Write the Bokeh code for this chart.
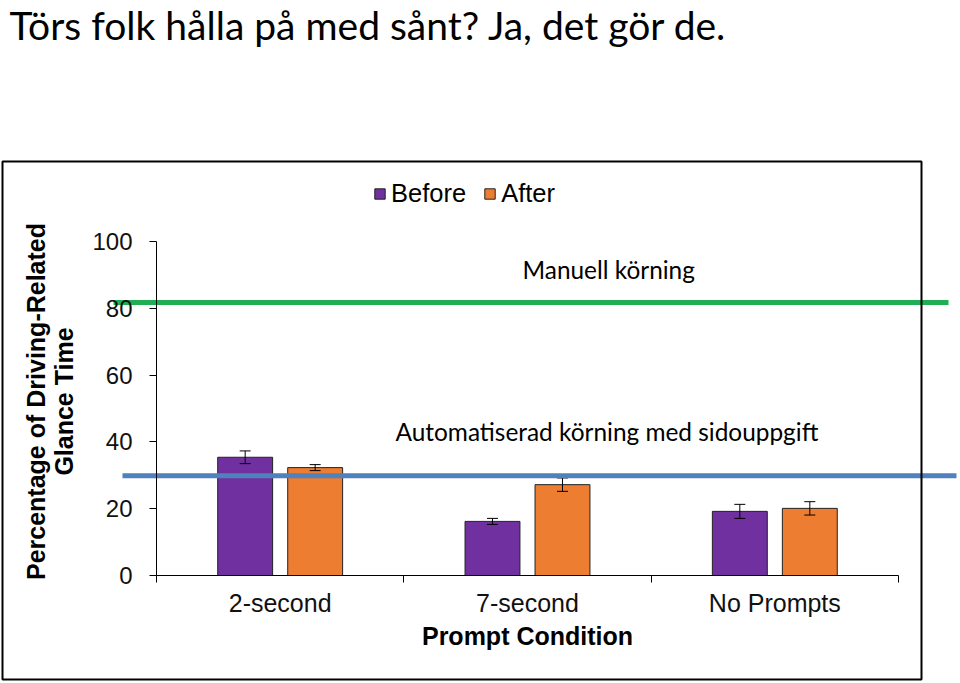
from math import pi
from bokeh.plotting import figure
from bokeh.models import (Range1d, LinearAxis, FixedTicker, Label, BoxAnnotation,
                          Legend, LegendItem, ColumnDataSource)
from bokeh.embed import file_html
from bokeh.resources import INLINE

# ---------------- data ----------------
title_text = "Törs folk hålla på med sånt? Ja, det gör de."
categories = ["2-second", "7-second", "No Prompts"]
series_names = ["Before", "After"]
before = [35.4, 16.2, 19.2]
after = [32.3, 27.2, 20.1]
before_err = [1.9, 0.9, 2.1]
after_err = [0.9, 2.0, 2.0]
y_ticks = [0, 20, 40, 60, 80, 100]
x_title = "Prompt Condition"
y_title_lines = ["Percentage of Driving-Related", "Glance Time"]
manual_level = 81.7
auto_level = 29.9
manual_text = "Manuell körning"
auto_text = "Automatiserad körning med sidouppgift"

# ---------------- layout constants ----------------
W, H = 960, 683
PX_PER_CAT = 247.33
X0_PX = 156.0          # px where x = 0
PX_PER_UNIT = 3.34
Y0_PX = 108.0          # px from bottom where y = 0
BAR_OFF = 0.1415
BAR_W = 0.222

def px_to_x(px):
    return (px - X0_PX) / PX_PER_CAT

x_range = Range1d(-X0_PX / PX_PER_CAT, (W - X0_PX) / PX_PER_CAT)
y_range = Range1d(-Y0_PX / PX_PER_UNIT, (H - Y0_PX) / PX_PER_UNIT)

p = figure(width=W, height=H, x_range=x_range, y_range=y_range,
           output_backend="svg", toolbar_location=None, min_border=0,
           x_axis_type=None, y_axis_type=None, outline_line_color=None,
           background_fill_color="white", border_fill_color="white")

# chart box
box = BoxAnnotation(left=2, right=921, bottom=4, top=522,
                    left_units="screen", right_units="screen",
                    bottom_units="screen", top_units="screen",
                    fill_alpha=0, line_color="black", line_alpha=1, line_width=2)
p.add_layout(box)

# axes
font = "Liberation Sans"
yaxis = LinearAxis(fixed_location=0, bounds=(0, 100),
                   ticker=FixedTicker(ticks=y_ticks, minor_ticks=[]))
yaxis.major_tick_out = 7
yaxis.major_tick_in = 0
yaxis.minor_tick_out = 0
yaxis.major_label_standoff = 17
yaxis.major_label_text_font = font
yaxis.major_label_text_font_size = "24px"
yaxis.major_label_text_color = "#111111"
yaxis.axis_line_color = "black"
yaxis.major_tick_line_color = "black"
p.add_layout(yaxis, "left")

centers = [i + 0.5 for i in range(len(categories))]
xaxis = LinearAxis(fixed_location=0, bounds=(0, len(categories)),
                   ticker=FixedTicker(ticks=centers,
                                      minor_ticks=list(range(len(categories) + 1))),
                   major_label_overrides={c: n for c, n in zip(centers, categories)},
                   axis_label=x_title)
xaxis.major_tick_out = 0
xaxis.major_tick_in = 0
xaxis.minor_tick_out = 7
xaxis.minor_tick_in = 0
xaxis.minor_tick_line_color = "black"
xaxis.major_label_standoff = 6
xaxis.major_label_text_font = font
xaxis.major_label_text_font_size = "25px"
xaxis.major_label_text_color = "#111111"
xaxis.axis_label_text_font = font
xaxis.axis_label_text_font_size = "25px"
xaxis.axis_label_text_font_style = "bold"
xaxis.axis_label_text_color = "black"
xaxis.axis_label_standoff = 2
xaxis.axis_line_color = "black"
p.add_layout(xaxis, "below")

# bars
xb = [c - BAR_OFF for c in centers]
xa = [c + BAR_OFF for c in centers]
src_b = ColumnDataSource(dict(x=xb, top=before,
                              lo=[v - e for v, e in zip(before, before_err)],
                              hi=[v + e for v, e in zip(before, before_err)]))
src_a = ColumnDataSource(dict(x=xa, top=after,
                              lo=[v - e for v, e in zip(after, after_err)],
                              hi=[v + e for v, e in zip(after, after_err)]))
rb = p.vbar(x="x", top="top", bottom=0, width=BAR_W, source=src_b,
            fill_color="#7030A0", line_color="#222222", line_width=1)
ra = p.vbar(x="x", top="top", bottom=0, width=BAR_W, source=src_a,
            fill_color="#ED7D31", line_color="#222222", line_width=1)

for s in (src_b, src_a):
    p.segment(x0="x", x1="x", y0="lo", y1="hi", source=s, line_color="black", line_width=1)
    p.scatter(x="x", y="lo", source=s, marker="dash", size=11, line_color="black", line_width=1)
    p.scatter(x="x", y="hi", source=s, marker="dash", size=11, line_color="black", line_width=1)

# reference lines
p.segment(x0=[px_to_x(113)], x1=[px_to_x(948)], y0=[manual_level], y1=[manual_level],
          line_color="#1FAF52", line_width=5, line_cap="butt")
p.segment(x0=[px_to_x(122)], x1=[px_to_x(956)], y0=[auto_level], y1=[auto_level],
          line_color="#4F81BD", line_width=5, line_cap="butt")

# legend
legend = Legend(items=[LegendItem(label=series_names[0], renderers=[rb]),
                       LegendItem(label=series_names[1], renderers=[ra])],
                orientation="horizontal", location=(373, 475),
                glyph_width=13, glyph_height=13, label_standoff=5, spacing=17,
                padding=0, margin=0, border_line_color=None, background_fill_alpha=0,
                label_text_font=font, label_text_font_size="25.5px",
                label_text_color="black")
p.add_layout(legend)

# texts
p.add_layout(Label(x=9, y=659, x_units="screen", y_units="screen", text=title_text,
                   text_font="Lato", text_font_size="39px", text_color="black",
                   text_baseline="alphabetic"))
p.add_layout(Label(x=522, y=414, x_units="screen", y_units="screen", text=manual_text,
                   text_font="Lato", text_font_size="24.4px", text_color="black",
                   text_baseline="alphabetic"))
p.add_layout(Label(x=395, y=252, x_units="screen", y_units="screen", text=auto_text,
                   text_font="Lato", text_font_size="24.4px", text_color="black",
                   text_baseline="alphabetic"))
for xs, line in zip([35, 63], y_title_lines):
    p.add_layout(Label(x=xs, y=282, x_units="screen", y_units="screen", text=line,
                       angle=pi / 2, text_font=font, text_font_size="25px",
                       text_font_style="bold", text_color="black",
                       text_align="center", text_baseline="middle"))

open("out.html", "w").write(file_html(p, INLINE))
